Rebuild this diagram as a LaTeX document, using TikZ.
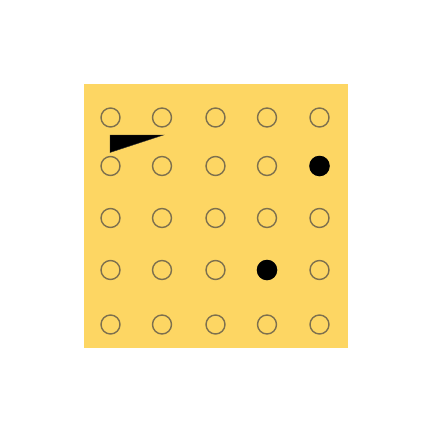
\documentclass[tikz,border=0pt]{standalone}
\usepackage{tikz}
\usetikzlibrary{positioning}
\definecolor{board}{RGB}{253, 214, 99}
\definecolor{ring}{RGB}{125, 112, 78}

\begin{document}
\begin{tikzpicture}[x=1pt, y=-1pt,
    hole/.style={circle, draw=ring, line width=1.4pt, minimum size=19pt, inner sep=0pt},
    peg/.style={circle, fill=black, minimum size=20.5pt, inner sep=0pt}]
  \useasboundingbox (0, 0) rectangle (432, 432);
  % board
  \fill[board] (84, 84) rectangle (348, 348);

  % holes
  \foreach \c/\x in {1/110.5, 2/162, 3/215.5, 4/267, 5/319.5}
    \foreach \r/\y in {1/117.5, 2/166, 3/218, 4/270, 5/324.5}
      \node[hole] (h-\r-\c) at (\x, \y) {};

  % pegs
  \node[peg] (p-2-5) at (h-2-5) {};
  \node[peg] (p-4-4) at (h-4-4) {};

  % pointer
  \fill[black, draw=black!80, line width=0.4pt] (110, 135) -- (163.5, 135) -- (110, 152.5) -- cycle;
\end{tikzpicture}
\end{document}
